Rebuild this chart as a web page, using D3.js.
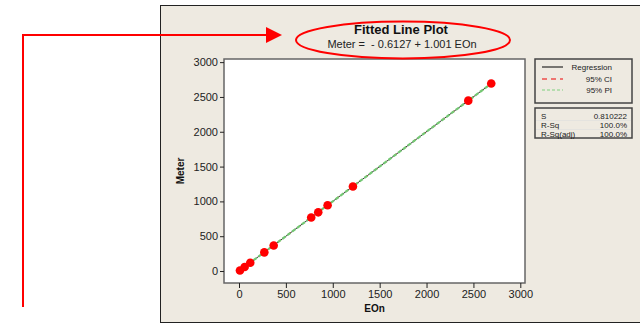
<!DOCTYPE html>
<html><head><meta charset="utf-8">
<script src="https://cdn.jsdelivr.net/npm/d3@7"></script>
<style>
html,body{margin:0;padding:0;background:#fff;}
svg{display:block;font-family:"Liberation Sans",Arial,sans-serif;}
</style></head>
<body><svg id="c" width="640" height="326"></svg>
<script>
// ---- data ----
const eon   = [10, 60, 120, 270, 370, 770, 845, 945, 1215, 2445, 2690];
const meter = [8, 58, 118, 268, 366, 768, 843, 944, 1214, 2447, 2693];
const xTicks = [0, 500, 1000, 1500, 2000, 2500, 3000];
const yTicks = [0, 500, 1000, 1500, 2000, 2500, 3000];
const intercept = -0.6127, slope = 1.001;
const legendItems = ["Regression", "95% CI", "95% PI"];
const statLabels = ["S", "R-Sq", "R-Sq(adj)"];
const statValues = ["0.810222", "100.0%", "100.0%"];
const titleText = "Fitted Line Plot";
const subtitleText = "Meter = \u00a0- 0.6127 + 1.001 EOn";

const svg = d3.select("#c");
// panel
svg.append("rect").attr("x",160.5).attr("y",5.5).attr("width",490).attr("height",317)
  .attr("fill","#eeeae1").attr("stroke","#222").attr("stroke-width",1);

const plot = {l:224, r:525, t:59, b:283};
const x = d3.scaleLinear().domain([-160, 3050]).range([plot.l, plot.r]);
const y = d3.scaleLinear().domain([-172, 3045]).range([plot.b, plot.t]);

svg.append("rect").attr("x",plot.l).attr("y",plot.t).attr("width",plot.r-plot.l).attr("height",plot.b-plot.t)
  .attr("fill","#fff");

// fit lines
const x0 = d3.min(eon), x1 = d3.max(eon);
const fit = v => intercept + slope*v;
const line = d3.line().x(d=>x(d[0])).y(d=>y(d[1]));
const pts = [[x0, fit(x0)], [x1, fit(x1)]];
const g = svg.append("g");
g.append("path").attr("d", line(pts)).attr("stroke","#000").attr("stroke-width",0.8).attr("fill","none");
g.append("path").attr("d", line(pts)).attr("stroke","#e00").attr("stroke-width",1.2).attr("stroke-dasharray","3,9").attr("fill","none");
g.append("path").attr("d", line(pts)).attr("stroke","#74c874").attr("stroke-width",2.2).attr("stroke-dasharray","4,2").attr("stroke-dashoffset",1).attr("fill","none");

// points
svg.append("g").selectAll("circle").data(eon).join("circle")
  .attr("cx",(d)=>x(d)).attr("cy",(d,i)=>y(meter[i])).attr("r",4.3).attr("fill","#ff0000");

// frame
svg.append("rect").attr("x",plot.l).attr("y",plot.t).attr("width",plot.r-plot.l).attr("height",plot.b-plot.t)
  .attr("fill","none").attr("stroke","#666").attr("stroke-width",1.5);

// axes
const fmt = d3.format("d");
const xa = svg.append("g").attr("transform",`translate(0,${plot.b})`)
  .call(d3.axisBottom(x).tickValues(xTicks).tickFormat(fmt).tickSize(5).tickSizeOuter(0).tickPadding(2));
const ya = svg.append("g").attr("transform",`translate(${plot.l},0)`)
  .call(d3.axisLeft(y).tickValues(yTicks).tickFormat(fmt).tickSize(4).tickSizeOuter(0).tickPadding(2));
[xa,ya].forEach(a=>{
  a.select(".domain").remove();
  a.selectAll(".tick line").attr("stroke","#222");
  a.selectAll("text").attr("font-size",11).attr("fill","#222").attr("font-family","Liberation Sans, Arial, sans-serif");
});

svg.append("text").attr("x",(plot.l+plot.r)/2).attr("y",312).attr("text-anchor","middle")
  .attr("font-size",10).attr("font-weight","bold").attr("fill","#111").text("EOn");
svg.append("text").attr("transform",`translate(184,${(plot.t+plot.b)/2}) rotate(-90)`).attr("text-anchor","middle")
  .attr("font-size",10).attr("font-weight","bold").attr("fill","#111").text("Meter");

// titles
svg.append("text").attr("x",401).attr("y",34).attr("text-anchor","middle").attr("font-size",13)
  .attr("font-weight","bold").attr("fill","#111").text(titleText);
svg.append("text").attr("x",402).attr("y",48).attr("text-anchor","middle").attr("font-size",11)
  .attr("fill","#222").text(subtitleText);

// legend box
svg.append("rect").attr("x",535).attr("y",59).attr("width",97).attr("height",44)
  .attr("fill","none").attr("stroke","#444").attr("stroke-width",1.5);
const legStyles = [{c:"#000",d:null},{c:"#e00",d:"5,4"},{c:"#7fd07f",d:"3,2"}];
const lr = [67, 79, 90];
legendItems.forEach((t,i)=>{
  svg.append("line").attr("x1",542).attr("x2",563).attr("y1",lr[i]).attr("y2",lr[i])
    .attr("stroke",legStyles[i].c).attr("stroke-width",1).attr("stroke-dasharray",legStyles[i].d);
  svg.append("text").attr("x",612).attr("y",lr[i]+3).attr("text-anchor","end").attr("font-size",8)
    .attr("fill","#222").text(t);
});
// stats box
svg.append("rect").attr("x",535).attr("y",108).attr("width",97).attr("height",30)
  .attr("fill","none").attr("stroke","#444").attr("stroke-width",1.5);
const sr = [116, 125, 134];
statLabels.forEach((t,i)=>{
  svg.append("text").attr("x",541).attr("y",sr[i]+3).attr("font-size",8).attr("fill","#222").text(t);
  svg.append("text").attr("x",627).attr("y",sr[i]+3).attr("text-anchor","end").attr("font-size",8).attr("fill","#222").text(statValues[i]);
  if(i<2) svg.append("line").attr("x1",536).attr("x2",631).attr("y1",sr[i]+4.5).attr("y2",sr[i]+4.5).attr("stroke","#ddd").attr("stroke-width",0.6);
});

// annotation: red arrow and ellipse
svg.append("path").attr("d","M23,307 L23,35 L267,35").attr("fill","none").attr("stroke","#f00").attr("stroke-width",2);
svg.append("path").attr("d","M266,27 L282,35 L266,43 Z").attr("fill","#f00");
svg.append("ellipse").attr("cx",403).attr("cy",40).attr("rx",107).attr("ry",18.5)
  .attr("fill","none").attr("stroke","#f00").attr("stroke-width",2);
</script></body></html>
